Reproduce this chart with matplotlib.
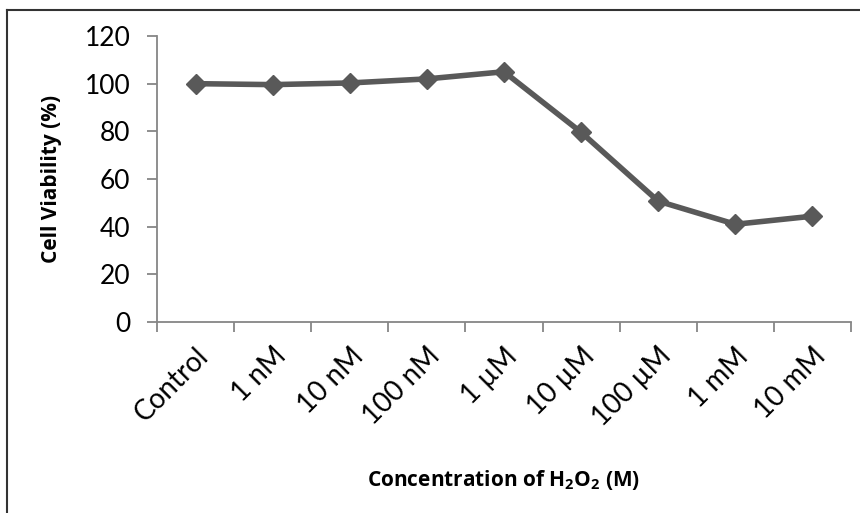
import matplotlib
matplotlib.use("Agg")
import matplotlib.pyplot as plt
from matplotlib.lines import Line2D

categories = ["Control", "1 nM", "10 nM", "100 nM", "1 µM", "10 µM", "100 µM", "1 mM", "10 mM"]
viability = [100, 99.6, 100.3, 102, 105, 79.6, 50.7, 41, 44.4]
yticks = [0, 20, 40, 60, 80, 100, 120]

FONT = 'Lato'
BFONT = 'Open Sans'
plt.rcParams['font.family'] = [FONT, 'DejaVu Sans']
plt.rcParams['mathtext.fontset'] = 'custom'
plt.rcParams['mathtext.rm'] = BFONT
plt.rcParams['mathtext.bf'] = BFONT + ':bold'

W, H = 860, 513
fig = plt.figure(figsize=(W/100, H/100), dpi=100)
ax = fig.add_axes([157/W, 1-322/H, (851-157)/W, (322-36)/H])

x = list(range(len(categories)))
ax.plot(x, viability, color='#595959', lw=4, marker='D', ms=10, mfc='#595959', mec='#595959')
ax.set_xlim(-0.5, len(categories)-0.5)
ax.set_ylim(0, 120)
ax.set_yticks(yticks)
ax.set_yticklabels([str(v) for v in yticks], fontsize=19)
ax.set_xticks([i - 0.5 for i in range(len(categories)+1)])
ax.set_xticklabels([])
ax.set_xticks(x, minor=True)
ax.set_xticklabels(categories, minor=True, rotation=45, ha='right', rotation_mode='anchor', fontsize=20)
ax.tick_params(axis='x', which='minor', length=0, pad=15)
ax.tick_params(axis='x', which='major', length=7, width=1.3, color='#868686', direction='out')
ax.tick_params(axis='y', length=7, width=1.3, color='#868686', direction='out', pad=12)
for s in ['top', 'right']:
    ax.spines[s].set_visible(False)
for s in ['left', 'bottom']:
    ax.spines[s].set_color('#868686')
    ax.spines[s].set_linewidth(1.3)

ax.set_ylabel("Cell Viability (%)", fontsize=15, fontweight='bold', family=[BFONT, 'DejaVu Sans'])
ax.yaxis.set_label_coords(-(157-62)/(851-157), 0.5)
fig.text((157+851)/2/W, 1-480/H, r"Concentration of H$_\mathbf{2}$O$_\mathbf{2}$ (M)", ha='center', va='center',
         fontsize=15, fontweight='bold', family=[BFONT, 'DejaVu Sans'])

fig.add_artist(Line2D([7/W, 1], [1-10/H, 1-10/H], color='#333333', lw=1.5, transform=fig.transFigure))
fig.add_artist(Line2D([7/W, 7/W], [0, 1-10/H], color='#333333', lw=1.5, transform=fig.transFigure))

fig.savefig("out.png", dpi=100)
